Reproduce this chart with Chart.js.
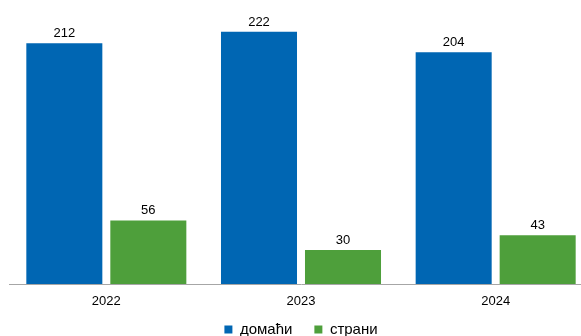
<!DOCTYPE html>
<html>
<head>
<meta charset="utf-8">
<script src="https://cdn.jsdelivr.net/npm/chart.js@4/dist/chart.umd.min.js"></script>
<style>
  html, body { margin: 0; padding: 0; overflow: hidden; background: #fff; }
  #wrap { position: relative; width: 581px; height: 336px; overflow: hidden; }
  #box { position: absolute; left: 0; top: 0; width: 593px; height: 347px; }
</style>
</head>
<body>
<div id="wrap"><div id="box"><canvas id="c"></canvas></div></div>
<script>
const categories = ['2022', '2023', '2024'];
const seriesNames = ['домаћи', 'страни'];
const domestic = [212, 222, 204];
const foreign = [56, 30, 43];
const yMax = 250;

const FONT = "'Liberation Sans', Arial, sans-serif";

const valueLabels = {
  id: 'valueLabels',
  afterDatasetsDraw(chart) {
    const ctx = chart.ctx;
    ctx.save();
    ctx.font = '13px ' + FONT;
    ctx.fillStyle = '#000';
    ctx.textAlign = 'center';
    ctx.textBaseline = 'alphabetic';
    chart.data.datasets.forEach((ds, i) => {
      const meta = chart.getDatasetMeta(i);
      meta.data.forEach((bar, j) => {
        ctx.fillText(String(ds.data[j]), bar.x, bar.y - 6);
      });
    });
    ctx.restore();
  }
};

new Chart(document.getElementById('c'), {
  type: 'bar',
  data: {
    labels: categories,
    datasets: [
      { label: seriesNames[0], data: domestic, backgroundColor: '#0066b3', borderWidth: 0 },
      { label: seriesNames[1], data: foreign, backgroundColor: '#4e9f3b', borderWidth: 0 }
    ]
  },
  options: {
    responsive: true,
    maintainAspectRatio: false,
    animation: false,
    events: [],
    layout: { padding: { left: 9, right: 0, top: 0, bottom: 0 } },
    datasets: { bar: { categoryPercentage: 0.863, barPercentage: 0.905 } },
    scales: {
      x: {
        grid: { display: false, drawTicks: false },
        border: { display: true, color: '#a6a6a6', width: 1 },
        ticks: { color: '#000', font: { family: FONT, size: 13 }, padding: 10 },
        afterFit(scale) {
          scale.height = 16;
          scale._computeLabelArea = () => undefined;
        }
      },
      y: {
        display: false,
        min: 0,
        max: yMax
      }
    },
    plugins: {
      legend: {
        position: 'bottom',
        labels: {
          boxWidth: 8,
          boxHeight: 8,
          padding: 22,
          color: '#000',
          font: { family: FONT, size: 15 }
        }
      },
      tooltip: { enabled: false }
    }
  },
  plugins: [valueLabels]
});
</script>
</body>
</html>
